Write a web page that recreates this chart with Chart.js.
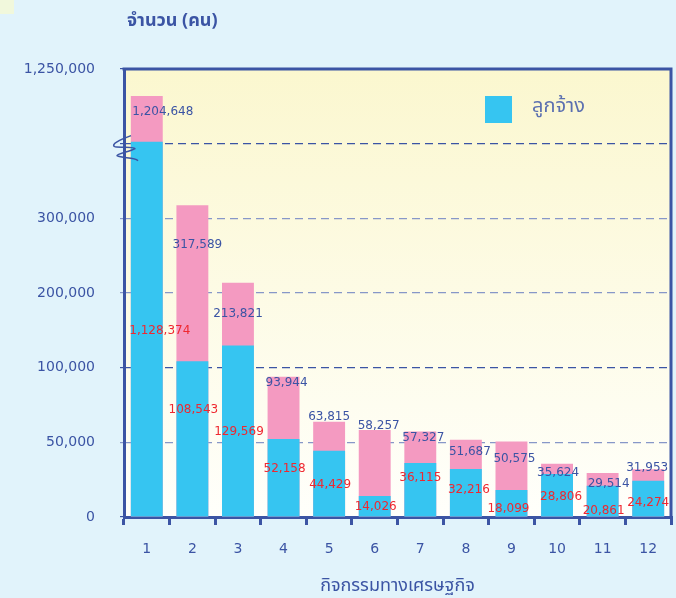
<!DOCTYPE html>
<html>
<head>
<meta charset="utf-8">
<script src="https://cdn.jsdelivr.net/npm/chart.js@4.4.1/dist/chart.umd.min.js"></script>
<style>
  html, body { margin: 0; padding: 0; background: #e1f3fb; }
  canvas { display: block; }
</style>
</head>
<body>
<canvas id="myChart" width="676" height="598"></canvas>
<script>
const categories = ['1', '2', '3', '4', '5', '6', '7', '8', '9', '10', '11', '12']
const employees = [1128374, 108543, 129569, 52158, 44429, 14026, 36115, 32216, 18099, 28806, 20861, 24274]
const totals = [1204648, 317589, 213821, 93944, 63815, 58257, 57327, 51687, 50575, 35624, 29514, 31953]
const yTickValues = [0, 50000, 100000, 200000, 300000, 1125000, 1250000]

// broken axis: value -> step (each step is one equal band on screen)
const breakValues = [0, 50000, 100000, 200000, 300000, 400000, 1125000, 1250000]
const breakSteps = [0, 1, 2, 3, 4, 5, 5, 6]
const breakTick = 1125000

const dark = '#3b54a4'
const light = '#8797c8'
const thai = '"Noto Sans Thai", "Noto Sans Thai UI", Tahoma, "DejaVu Sans", sans-serif'
const latin = 'Tahoma, "DejaVu Sans", sans-serif'

// label nudges (px) relative to bar top
const totalDx = [16, 5, 0, 3, 0, 4, 3, 4, 3, 1, 6, -1]
const totalDy = [16, 40, 31, 6, -5, -4, 6, 12, 17, 9, 11, -1]
const empDx = [13, 1, 1, 1, 1, 1, 0, 3, -3, 4, 1, 0]
const empDy = [189, 49, 86, 30, 34, 11, 15, 21, 19, 23, 25, 22]

class BrokenScale extends Chart.LinearScale {
    toStep(v) {
        if (v <= breakValues[0]) return breakSteps[0]
        for (let i = 1; i < breakValues.length; i++) {
            if (v <= breakValues[i]) {
                const f = (v - breakValues[i - 1]) / (breakValues[i] - breakValues[i - 1])
                return breakSteps[i - 1] + f * (breakSteps[i] - breakSteps[i - 1])
            }
        }
        return breakSteps[breakSteps.length - 1]
    }
    getPixelForValue(value) {
        if (value === null || value === undefined) return NaN
        return this.getPixelForDecimal(this.toStep(value) / breakSteps[breakSteps.length - 1])
    }
    getValueForPixel(pixel) {
        const s = this.getDecimalForPixel(pixel) * breakSteps[breakSteps.length - 1]
        for (let i = 1; i < breakSteps.length; i++) {
            if (s <= breakSteps[i] && breakSteps[i] > breakSteps[i - 1]) {
                const f = (s - breakSteps[i - 1]) / (breakSteps[i] - breakSteps[i - 1])
                return breakValues[i - 1] + f * (breakValues[i] - breakValues[i - 1])
            }
        }
        return breakValues[breakValues.length - 1]
    }
}
BrokenScale.id = 'broken'
BrokenScale.defaults = {}
Chart.register(BrokenScale)

// background + plot gradient
const backdrop = {
    id: 'backdrop',
    beforeDraw(chart) {
        const { ctx, chartArea: a } = chart
        ctx.save()
        ctx.fillStyle = '#e1f3fb'
        ctx.fillRect(0, 0, chart.width, chart.height)
        ctx.fillStyle = '#f1f8dc'
        ctx.fillRect(0, 0, 14, 14)
        const g = ctx.createLinearGradient(0, a.top, 0, a.bottom)
        g.addColorStop(0, '#fbf7cf')
        g.addColorStop(1, '#fffffb')
        ctx.fillStyle = g
        ctx.fillRect(a.left, a.top, a.right - a.left, a.bottom - a.top)
        ctx.restore()
    }
}

// value labels on the bars
const valueLabels = {
    id: 'valueLabels',
    afterDatasetsDraw(chart) {
        const { ctx } = chart
        const empBars = chart.getDatasetMeta(0).data
        const totBars = chart.getDatasetMeta(1).data
        ctx.save()
        ctx.font = '12px ' + latin
        ctx.textAlign = 'center'
        ctx.textBaseline = 'middle'
        totBars.forEach((bar, i) => {
            ctx.fillStyle = dark
            ctx.fillText(totals[i].toLocaleString('en-US'), bar.x + totalDx[i], bar.y + totalDy[i])
        })
        empBars.forEach((bar, i) => {
            ctx.fillStyle = '#ef2830'
            ctx.fillText(employees[i].toLocaleString('en-US'), bar.x + empDx[i], bar.y + empDy[i])
        })
        ctx.restore()
    }
}

// frame, axis break mark, y title, legend
const decorations = {
    id: 'decorations',
    afterDraw(chart) {
        const { ctx, chartArea: a } = chart
        const y = chart.scales.y
        ctx.save()
        ctx.strokeStyle = dark
        ctx.lineWidth = 3
        ctx.beginPath()
        ctx.moveTo(a.left - 1.5, a.top)
        ctx.lineTo(a.right, a.top)
        ctx.lineTo(a.right, a.bottom + 1.5)
        ctx.stroke()

        // zigzag break on y axis
        const by = y.getPixelForValue(breakTick)
        const bx = a.left
        ctx.lineWidth = 1.5
        ctx.beginPath()
        ctx.moveTo(bx + 7, by - 8)
        ctx.bezierCurveTo(bx - 4, by - 4, bx - 14, by + 1, bx - 9, by + 3)
        ctx.bezierCurveTo(bx - 2, by + 4, bx + 11, by + 3, bx + 11, by + 5)
        ctx.bezierCurveTo(bx + 6, by + 8, bx - 7, by + 10, bx - 7, by + 12)
        ctx.bezierCurveTo(bx - 2, by + 15, bx + 10, by + 13, bx + 14, by + 17)
        ctx.stroke()

        ctx.fillStyle = dark
        ctx.font = 'bold 18px ' + thai
        ctx.textAlign = 'left'
        ctx.textBaseline = 'middle'
        ctx.fillText('จำนวน (คน)', 127, 22)

        const ds = chart.data.datasets[0]
        ctx.fillStyle = ds.backgroundColor
        ctx.fillRect(a.left + 361, a.top + 27, 27, 27)
        ctx.fillStyle = '#5c70b0'
        ctx.font = '20px ' + thai
        ctx.fillText(ds.label, a.left + 408, a.top + 39)
        ctx.restore()
    }
}

const data = {
    labels: categories,
    datasets: [{
        label: 'ลูกจ้าง',
        data: employees,
        backgroundColor: '#36c5f1'
    }, {
        label: 'รวม',
        data: totals,
        backgroundColor: '#f49ac1'
    }]
}

const config = {
    type: 'bar',
    data,
    options: {
        responsive: false,
        animation: false,
        grouped: false,
        categoryPercentage: 1,
        barPercentage: 0.7,
        layout: {
            padding: { top: 69, right: 5, left: 0, bottom: 0 }
        },
        scales: {
            x: {
                grid: {
                    drawOnChartArea: false,
                    color: dark,
                    lineWidth: 3,
                    tickLength: 8
                },
                border: { color: dark, width: 3 },
                ticks: {
                    color: dark,
                    padding: 16,
                    font: { family: latin, size: 14 }
                },
                title: {
                    display: true,
                    text: 'กิจกรรมทางเศรษฐกิจ',
                    color: dark,
                    font: { family: thai, size: 18 },
                    padding: { top: 0, bottom: 0 }
                },
                afterFit: (scale) => { scale.height = 81 }
            },
            y: {
                type: 'broken',
                min: 0,
                max: 1250000,
                afterBuildTicks: (scale) => {
                    scale.ticks = yTickValues.map(v => ({ value: v }))
                },
                afterFit: (scale) => { scale.width = 124 },
                grid: {
                    color: (c) => [50000, 200000, 300000].includes(c.tick && c.tick.value) ? light : dark,
                    lineWidth: 1.2,
                    tickLength: 4,
                    tickBorderDash: []
                },
                border: { color: dark, width: 3, dash: [8, 5] },
                ticks: {
                    color: dark,
                    padding: 25,
                    font: { family: latin, size: 14 },
                    callback: (v) => v === breakTick ? '' : v.toLocaleString('en-US')
                }
            }
        },
        plugins: {
            legend: { display: false },
            tooltip: { enabled: false }
        }
    },
    plugins: [backdrop, valueLabels, decorations]
}

const myChart = new Chart(document.getElementById('myChart'), config)
</script>
</body>
</html>
